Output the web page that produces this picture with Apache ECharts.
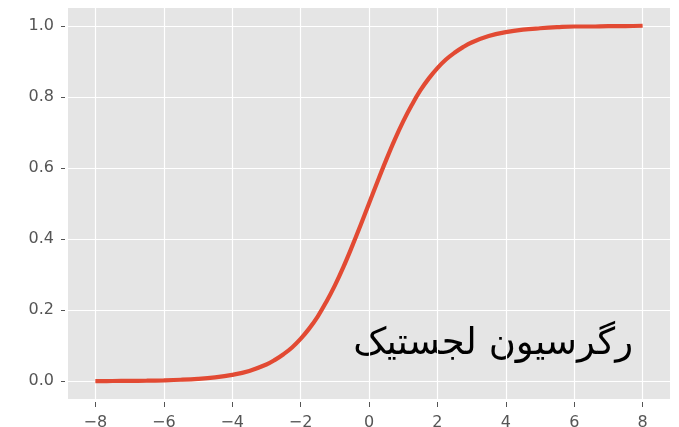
<!DOCTYPE html>
<html><head><meta charset="utf-8">
<script src="https://cdn.jsdelivr.net/npm/echarts@6/dist/echarts.min.js"></script>
<style>html,body{margin:0;padding:0;background:#fff}#c{width:679px;height:427px}</style>
</head><body><div id="c"></div>
<script>
const xValues = [-8,-7.5,-7,-6.5,-6,-5.5,-5,-4.5,-4,-3.5,-3,-2.75,-2.5,-2.25,-2,-1.75,-1.5,-1.25,-1,-0.75,-0.5,-0.25,0,0.25,0.5,0.75,1,1.25,1.5,1.75,2,2.25,2.5,2.75,3,3.5,4,4.5,5,5.5,6,6.5,7,7.5,8];
const yValues = [0.0003,0.0006,0.0009,0.0015,0.0025,0.0041,0.0067,0.011,0.018,0.029,0.047,0.060,0.076,0.095,0.119,0.148,0.182,0.223,0.269,0.321,0.378,0.438,0.5,0.562,0.622,0.679,0.731,0.777,0.818,0.852,0.881,0.905,0.924,0.940,0.953,0.971,0.982,0.989,0.993,0.996,0.998,0.998,0.999,0.999,1.0];
const xTicks = [-8,-6,-4,-2,0,2,4,6,8];
const yTicks = [0.0,0.2,0.4,0.6,0.8,1.0];
const annotation = 'رگرسیون لجستیک';

const chart = echarts.init(document.getElementById('c'), null, {renderer:'canvas'});
chart.setOption({
  animation:false,
  backgroundColor:'#fff',
  grid:{left:68, right:9, top:8, bottom:28, show:true, backgroundColor:'#E5E5E5', borderWidth:0, outerBoundsMode:'none', containLabel:false},
  xAxis:{type:'value', min:-8.8, max:8.8, offset:3,
    axisLine:{show:false, onZero:false},
    axisTick:{customValues:xTicks, show:true, length:5, lineStyle:{color:'#555', width:1}},
    axisLabel:{customValues:xTicks, margin:13, color:'#555', fontSize:16, fontFamily:'DejaVu Sans',
      formatter:v=> v<0 ? '\u2212'+(-v) : String(v)},
    splitLine:{show:true, lineStyle:{color:'#fff', width:1.2}}
  },
  yAxis:{type:'value', min:-0.05, max:1.05, offset:3,
    axisLine:{show:false, onZero:false},
    axisTick:{customValues:yTicks, show:true, length:4, lineStyle:{color:'#555', width:1}},
    axisLabel:{customValues:yTicks, margin:11, color:'#555', fontSize:16, fontFamily:'DejaVu Sans',
      formatter:v=> v.toFixed(1)},
    splitLine:{show:true, lineStyle:{color:'#fff', width:1.2}}
  },
  series:[{type:'line', data:xValues.map((x,i)=>[x,yValues[i]]), smooth:0.4, showSymbol:false,
    lineStyle:{color:'#E24A33', width:4.2}}],
  graphic:[{type:'text', right:46, top:326, style:{text:annotation, fill:'#000', fontSize:37, fontFamily:'DejaVu Sans ExtraLight, DejaVu Sans'}}]
});
</script></body></html>
